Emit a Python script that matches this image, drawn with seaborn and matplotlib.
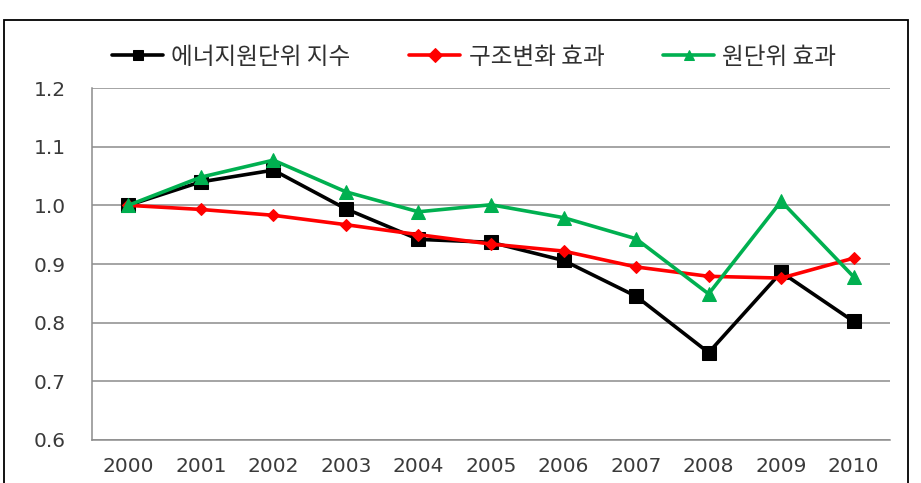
import numpy as np
import pandas as pd
import matplotlib
matplotlib.use("Agg")
import matplotlib.pyplot as plt
import seaborn as sns
from matplotlib.patches import Rectangle

# 데이터
years = ["2000", "2001", "2002", "2003", "2004", "2005",
         "2006", "2007", "2008", "2009", "2010"]
energy_index = [1.000, 1.040, 1.060, 0.994, 0.942, 0.937, 0.906, 0.845, 0.749, 0.886, 0.802]
structure_eff = [1.000, 0.993, 0.983, 0.967, 0.950, 0.934, 0.922, 0.895, 0.879, 0.876, 0.910]
intensity_eff = [1.000, 1.048, 1.077, 1.023, 0.989, 1.001, 0.979, 0.943, 0.849, 1.007, 0.878]

series_names = ["에너지원단위 지수", "구조변화 효과", "원단위 효과"]

sns.set_theme(style="white")
plt.rcParams["font.family"] = ["DejaVu Sans", "Noto Sans CJK KR"]

fig = plt.figure(figsize=(9.21, 4.83), dpi=100)
ax = fig.add_axes([92 / 921, 1 - 440 / 483, (890 - 92) / 921, (440 - 88) / 483])

df = pd.DataFrame({
    "pos": np.tile(np.arange(len(years)), 3),
    "value": energy_index + structure_eff + intensity_eff,
    "series": np.repeat(series_names, len(years)),
})

styles = {
    "에너지원단위 지수": dict(color="#000000", marker="s", markersize=10),
    "구조변화 효과": dict(color="#FF0000", marker="D", markersize=6.5),
    "원단위 효과": dict(color="#00B050", marker="^", markersize=10),
}

for name in series_names:
    sub = df[df["series"] == name]
    st = styles[name]
    sns.lineplot(data=sub, x="pos", y="value", ax=ax, color=st["color"],
                 marker=st["marker"], markersize=st["markersize"],
                 markeredgecolor=st["color"], linewidth=2.6, label=name)

ax.set_xlim(-0.5, len(years) - 0.5)
ax.set_ylim(0.6, 1.2)
ax.set_xticks(np.arange(len(years)))
ax.set_xticklabels(years)
ax.set_yticks(np.arange(0.6, 1.21, 0.1))
ax.set_yticklabels([f"{v:.1f}" for v in np.arange(0.6, 1.21, 0.1)])
ax.tick_params(axis="both", labelsize=14.5, colors="#3a3a3a", length=0)
ax.tick_params(axis="x", pad=12)
ax.tick_params(axis="y", pad=19)
ax.set_xlabel("")
ax.set_ylabel("")

ax.grid(axis="y", color="#8c8c8c", linewidth=1.1)
ax.set_axisbelow(True)
for side in ["top", "right"]:
    ax.spines[side].set_visible(False)
for side in ["left", "bottom"]:
    ax.spines[side].set_color("#8c8c8c")
    ax.spines[side].set_linewidth(1.1)

leg = ax.legend(loc="center", bbox_to_anchor=(0.479, 1 + 31 / 352), ncol=3,
                frameon=False, fontsize=17, handlelength=2.15, handletextpad=0.35,
                columnspacing=2.5, borderaxespad=0, borderpad=0)
for t in leg.get_texts():
    t.set_color("#303030")
    t.set_fontfamily(["Noto Sans CJK KR", "DejaVu Sans"])
for h in leg.legend_handles:
    h.set_markersize(7)

# 바깥 테두리
fig.patches.append(Rectangle((4 / 921, -0.05), (908 - 4) / 921, 1 - 20 / 483 + 0.05,
                             transform=fig.transFigure, fill=False,
                             edgecolor="#000000", linewidth=1.3))

fig.savefig("out.png", dpi=100)
